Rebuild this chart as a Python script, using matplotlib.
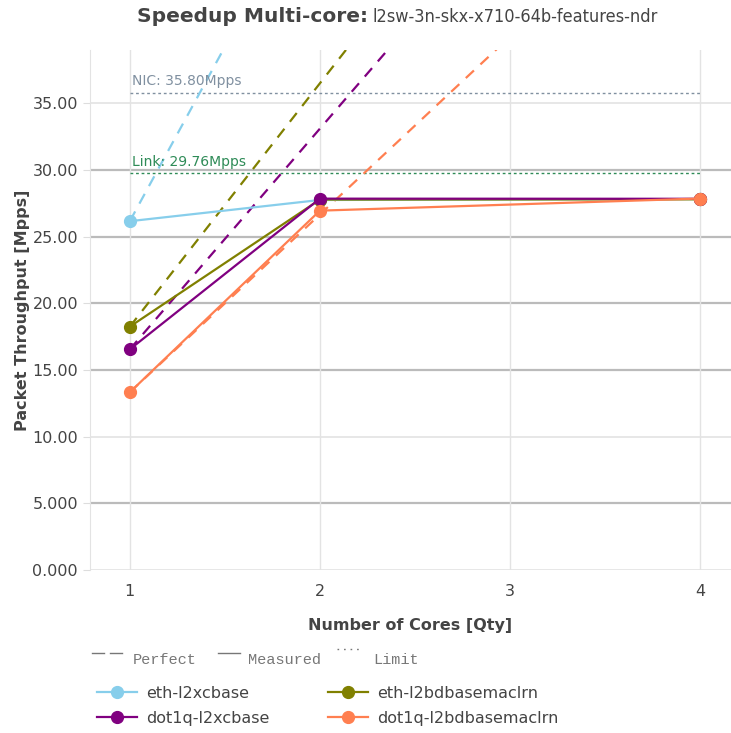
import matplotlib.pyplot as plt
from matplotlib.lines import Line2D

cores = [1, 2, 4]
series_names = ["eth-l2xcbase", "eth-l2bdbasemaclrn", "dot1q-l2xcbase", "dot1q-l2bdbasemaclrn"]
series_colors = ["#87ceeb", "#808000", "#800080", "#ff7f50"]
eth_l2xcbase = [26.16, 27.75, 27.82]
eth_l2bdbasemaclrn = [18.25, 27.78, 27.80]
dot1q_l2xcbase = [16.55, 27.85, 27.84]
dot1q_l2bdbasemaclrn = [13.33, 26.95, 27.86]
measured = [eth_l2xcbase, eth_l2bdbasemaclrn, dot1q_l2xcbase, dot1q_l2bdbasemaclrn]

perfect_cores = [1, 2, 3, 4]
limit_names = ["NIC: 35.80Mpps", "Link: 29.76Mpps"]
limit_values = [35.80, 29.76]
limit_colors = ["#8090a0", "#2e8b57"]

y_ticks = [0, 5, 10, 15, 20, 25, 30, 35]
y_labels = ["0.000", "5.000", "10.00", "15.00", "20.00", "25.00", "30.00", "35.00"]

W, H = 731, 733
txt = "#444444"
fig = plt.figure(figsize=(W / 100, H / 100), dpi=100)
ax = fig.add_axes([0.123, 0.2224, 0.877, 0.7094])

# grid (some lines rendered darker in the reference)
dark = {5, 15, 20, 25, 30}
for t in y_ticks:
    ax.axhline(t, color="#bbbbbb" if t in dark else "#e3e3e3", lw=1.6 if t in dark else 1.2, zorder=0)
for c in perfect_cores:
    ax.axvline(c, color="#e3e3e3", lw=1, zorder=0)

for name, vals, col in zip(series_names, measured, series_colors):
    ax.plot(perfect_cores, [vals[0] * c for c in perfect_cores], color=col, lw=1.6,
            dashes=(5, 4), zorder=2)
    ax.plot(cores, vals, color=col, lw=1.6, marker="o", markersize=8.5, label=name, zorder=3)

for name, val, col in zip(limit_names, limit_values, limit_colors):
    ax.plot([1, 4], [val, val], color=col, lw=1, dashes=(2, 2), zorder=1)
    ax.text(1.01, val + 0.35, name, color=col, fontsize=10, ha="left", va="bottom")

ax.set_xlim(0.79, 4.163)
ax.set_ylim(0, 39)
ax.set_xticks(perfect_cores)
ax.set_xticklabels([str(c) for c in perfect_cores])
ax.set_yticks(y_ticks)
ax.set_yticklabels(y_labels)
ax.tick_params(axis="both", colors="#dddddd", labelcolor=txt, labelsize=11.5, length=5)
ax.tick_params(axis="x", length=0, pad=10)
for s in ["top", "right", "bottom"]:
    ax.spines[s].set_visible(False)
ax.spines["left"].set_color("#e3e3e3")

ax.set_xlabel("Number of Cores [Qty]", fontsize=11.5, fontweight="bold", color=txt, labelpad=14)
ax.set_ylabel("Packet Throughput [Mpps]", fontsize=11.5, fontweight="bold", color=txt, labelpad=2)

fig.text(368 / W, 1 - 17 / H, "Speedup Multi-core:", fontsize=14.5, fontweight="bold", color=txt,
         ha="right", va="center")
fig.text(373 / W, 1 - 17 / H, "l2sw-3n-skx-x710-64b-features-ndr", fontsize=13, color=txt,
         fontstretch="condensed", ha="left", va="center")

# line-style key drawn by hand, as in the reference
gray = "#777777"
def seg(x0, x1, y, **kw):
    fig.add_artist(Line2D([x0 / W, x1 / W], [1 - y / H, 1 - y / H], color=gray, lw=1, **kw))
seg(92, 104, 653)
seg(110, 122, 653)
seg(218, 240, 653)
seg(337, 360, 649, dashes=(1.2, 3.5))
for x, label in [(133, "Perfect"), (248, "Measured"), (373, "Limit")]:
    fig.text(x / W, 1 - 660 / H, label, family="Liberation Mono", fontsize=11, color=gray,
             ha="left", va="center")

handles, labels = ax.get_legend_handles_labels()
order = [0, 2, 1, 3]
leg = fig.legend([handles[i] for i in order], [labels[i] for i in order], loc="upper left",
                 bbox_to_anchor=(92 / W, 1 - 681 / H), ncol=2, frameon=False, handlelength=2.5,
                 handletextpad=0.6, columnspacing=3.65, labelspacing=0.62, fontsize=11.5,
                 borderaxespad=0, borderpad=0.3)
for t in leg.get_texts():
    t.set_color(txt)

fig.savefig("out.png", dpi=100)
